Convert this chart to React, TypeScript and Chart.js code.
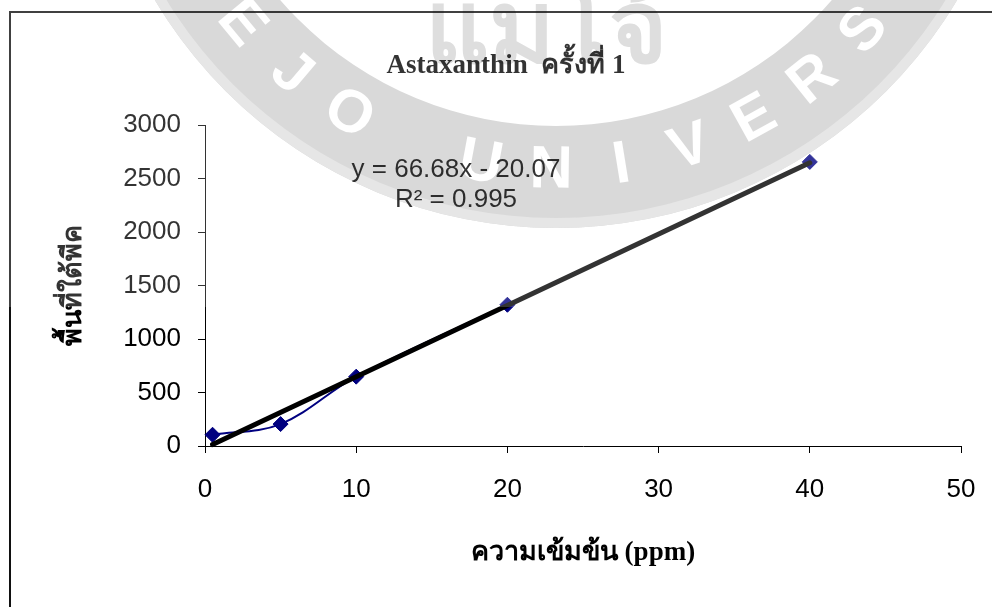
import React, { useEffect, useRef } from "react";
import { Chart, registerables } from "chart.js";

Chart.register(...registerables);

// Calibration: concentration (ppm) against peak area
const concentrations = [0.5, 5, 10, 20, 40];
const peakAreas = [105, 205, 648, 1320, 2655];

// Linear trend shown with its equation
const trendSlope = 66.68;
const trendIntercept = -20.07;
const trendFrom = 0.5;
const trendTo = 40;
const rSquared = 0.995;

const xTickValues = [0, 10, 20, 30, 40, 50];
const yTickValues = [0, 500, 1000, 1500, 2000, 2500, 3000];

const chartTitle = "Astaxanthin  ครั้งที่ 1";
const xAxisTitle = "ความเข้มข้น (ppm)";
const yAxisTitle = "พื้นที่ใต้พีค";
const sealText = "MAEJO UNIVERSITY";

const W = 992;
const H = 607;
const SANS = "'Liberation Sans', Arial, sans-serif";
const SERIF = "'Liberation Serif', 'Times New Roman', serif";

const decorPlugin = {
  id: "decor",
  beforeDraw(chart: any) {
    const ctx = chart.ctx;
    ctx.save();
    ctx.fillStyle = "#ffffff";
    ctx.fillRect(0, 0, W, H);
    // outer frame
    ctx.strokeStyle = "#111111";
    ctx.lineWidth = 2;
    ctx.beginPath();
    ctx.moveTo(10, H);
    ctx.lineTo(10, 12);
    ctx.lineTo(W, 12);
    ctx.stroke();
    ctx.restore();
  },
  afterDraw(chart: any) {
    const ctx = chart.ctx;
    ctx.save();
    // chart title
    ctx.fillStyle = "#000";
    ctx.textAlign = "center";
    ctx.textBaseline = "alphabetic";
    ctx.font = `bold 27px ${SERIF}`;
    ctx.fillText(chartTitle, 506, 73);

    // trend equation
    ctx.font = `26px ${SANS}`;
    const sign = trendIntercept < 0 ? "-" : "+";
    ctx.fillText(`y = ${trendSlope}x ${sign} ${Math.abs(trendIntercept)}`, 456, 177);
    ctx.fillText(`R² = ${rSquared}`, 456, 207);
    ctx.restore();

    // university seal printed over the upper part of the page
    const off = document.createElement("canvas");
    off.width = W;
    off.height = H;
    const o = off.getContext("2d") as CanvasRenderingContext2D;
    const cx = 556;
    const cy = -239;
    o.fillStyle = "#d9d9d9";
    o.beginPath();
    o.arc(cx, cy, 467, 0, Math.PI * 2);
    o.arc(cx, cy, 365, 0, Math.PI * 2, true);
    o.fill();
    o.fillStyle = "#e6e6e6";
    o.beginPath();
    o.arc(cx, cy, 467, 0, Math.PI * 2);
    o.arc(cx, cy, 457, 0, Math.PI * 2, true);
    o.fill();
    o.globalCompositeOperation = "destination-out";
    o.font = `bold 60px ${SANS}`;
    o.textAlign = "center";
    o.textBaseline = "middle";
    o.fillStyle = "#000";
    const chars = sealText.split("");
    chars.forEach((ch, i) => {
      if (ch === " ") return;
      const a = ((160 - i * 9.9) * Math.PI) / 180;
      o.save();
      o.translate(cx + 410 * Math.cos(a), cy + 410 * Math.sin(a));
      o.rotate(a - Math.PI / 2);
      o.fillText(ch, 0, 0);
      o.restore();
    });
    o.globalCompositeOperation = "source-over";
    o.fillStyle = "#dedede";
    o.font = `bold 100px ${SERIF}`;
    o.textAlign = "center";
    o.textBaseline = "alphabetic";
    o.fillText("แม่โจ้", cx - 10, 62);

    ctx.save();
    ctx.fillStyle = "rgba(255,255,255,0.2)";
    ctx.fillRect(0, 0, W, 307);
    ctx.globalCompositeOperation = "multiply";
    ctx.drawImage(off, 0, 0);
    ctx.restore();
  },
};

export default function App() {
  const ref = useRef<HTMLCanvasElement | null>(null);

  useEffect(() => {
    if (!ref.current) return;
    const chart = new Chart(ref.current, {
      type: "line",
      data: {
        datasets: [
          {
            label: "trend",
            data: [trendFrom, trendTo].map((x) => ({ x, y: trendSlope * x + trendIntercept })),
            borderColor: "#000000",
            borderWidth: 5,
            borderCapStyle: "round",
            pointRadius: 0,
            tension: 0,
            clip: false,
          } as any,
          {
            label: "area",
            data: concentrations.map((x, i) => ({ x, y: peakAreas[i] })),
            borderColor: "#000080",
            backgroundColor: "#000080",
            borderWidth: 2,
            pointStyle: "rectRot",
            pointRadius: 7.5,
            pointBorderWidth: 1,
            pointBackgroundColor: "#000080",
            pointBorderColor: "#000080",
            tension: 0.35,
            clip: false,
          } as any,
        ],
      },
      options: {
        animation: false,
        responsive: false,
        events: [],
        layout: { padding: { left: 0, right: 31, top: 125, bottom: 0 } },
        plugins: {
          legend: { display: false },
          tooltip: { enabled: false },
          title: { display: false },
        },
        scales: {
          x: {
            type: "linear",
            min: 0,
            max: 50,
            afterBuildTicks: (s: any) => {
              s.ticks = xTickValues.map((value) => ({ value }));
            },
            afterFit: (s: any) => {
              s.height = 161;
              s.paddingLeft = 0;
              s.paddingRight = 0;
            },
            ticks: {
              font: { family: SANS, size: 26 },
              color: "#000",
              padding: 21,
              maxRotation: 0,
              callback: (v: any) => String(v),
            },
            grid: { drawOnChartArea: false, tickLength: 7, tickColor: "#000", lineWidth: 1 },
            border: { color: "#000", width: 1 },
            title: {
              display: true,
              text: xAxisTitle,
              color: "#000",
              font: { family: SERIF, size: 27, weight: "bold" },
              padding: { top: 0, bottom: 38 },
            },
          },
          y: {
            min: 0,
            max: 3000,
            afterBuildTicks: (s: any) => {
              s.ticks = yTickValues.map((value) => ({ value }));
            },
            afterFit: (s: any) => {
              s.width = 205;
              s.paddingTop = 0;
              s.paddingBottom = 0;
            },
            ticks: {
              font: { family: SANS, size: 26 },
              color: "#000",
              padding: 17,
              callback: (v: any) => String(v),
            },
            grid: { drawOnChartArea: false, tickLength: 7, tickColor: "#000", lineWidth: 1 },
            border: { color: "#000", width: 1 },
            title: {
              display: true,
              text: yAxisTitle,
              color: "#000",
              font: { family: SERIF, size: 27, weight: "bold" },
              padding: { top: 58, bottom: 0 },
            },
          },
        },
      } as any,
      plugins: [decorPlugin],
    });
    return () => chart.destroy();
  }, []);

  return (
    <div style={{ position: "absolute", left: 0, top: 0, width: W, height: H }}>
      <canvas ref={ref} width={W} height={H} style={{ display: "block" }} />
    </div>
  );
}
